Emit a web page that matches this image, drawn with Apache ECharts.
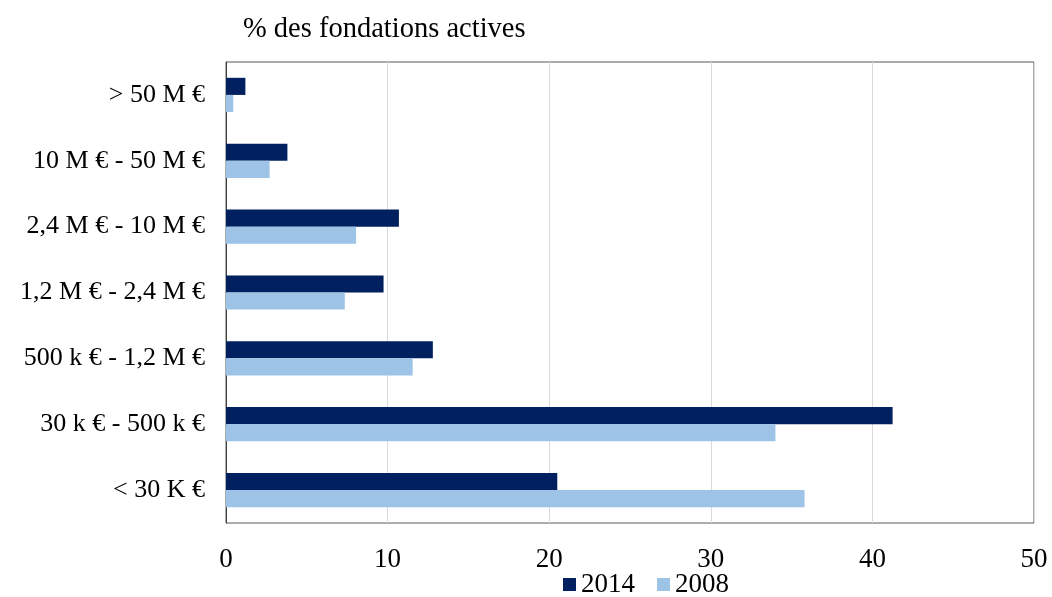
<!DOCTYPE html>
<html><head><meta charset="utf-8">
<script src="https://cdn.jsdelivr.net/npm/echarts@6/dist/echarts.min.js"></script>
<style>html,body{margin:0;padding:0;background:#fff}#c{width:1052px;height:597px}</style>
</head><body><div id="c"></div>
<script>
const categories = ["> 50 M €", "10 M € - 50 M €", "2,4 M € - 10 M €", "1,2 M € - 2,4 M €", "500 k € - 1,2 M €", "30 k € - 500 k €", "< 30 K €"];
const values2014 = [1.2, 3.8, 10.7, 9.75, 12.8, 41.25, 20.5];
const values2008 = [0.45, 2.7, 8.05, 7.35, 11.55, 34.0, 35.8];
const xTicks = {min: 0, max: 50, interval: 10};
const font = "Liberation Serif";
const legendText = {fontFamily: font, fontSize: 27, color: '#000'};
const chart = echarts.init(document.getElementById('c'));
chart.setOption({
  animation: false,
  textStyle: {fontFamily: font},
  title: {text: '% des fondations actives', left: 238, top: 10,
    textStyle: {fontFamily: font, fontSize: 28.5, fontWeight: 'normal', color: '#000'}},
  legend: {top: 566, left: 558, itemWidth: 13, itemHeight: 13, itemGap: 22,
    icon: 'rect', textStyle: legendText,
    data: ['2014', '2008']},
  grid: {left: 226, right: 18, top: 62, bottom: 74, show: true, borderColor: '#595959', borderWidth: 1},
  xAxis: {type: 'value', min: xTicks.min, max: xTicks.max, interval: xTicks.interval,
    axisLine: {show: false}, axisTick: {show: false},
    splitLine: {lineStyle: {color: '#d9d9d9', width: 1}},
    axisLabel: {fontFamily: font, fontSize: 27, color: '#000', margin: 23}},
  yAxis: {type: 'category', data: categories, inverse: true,
    axisLine: {show: true, lineStyle: {color: '#404040'}}, axisTick: {show: false},
    axisLabel: {fontFamily: font, fontSize: 26, color: '#000', margin: 21}},
  series: [
    {name: '2014', type: 'bar', data: values2014, barGap: '0%', barCategoryGap: '48%',
      itemStyle: {color: '#002060'}},
    {name: '2008', type: 'bar', data: values2008, barGap: '0%', barCategoryGap: '48%',
      itemStyle: {color: '#9DC3E6'}}
  ]
});
</script></body></html>
